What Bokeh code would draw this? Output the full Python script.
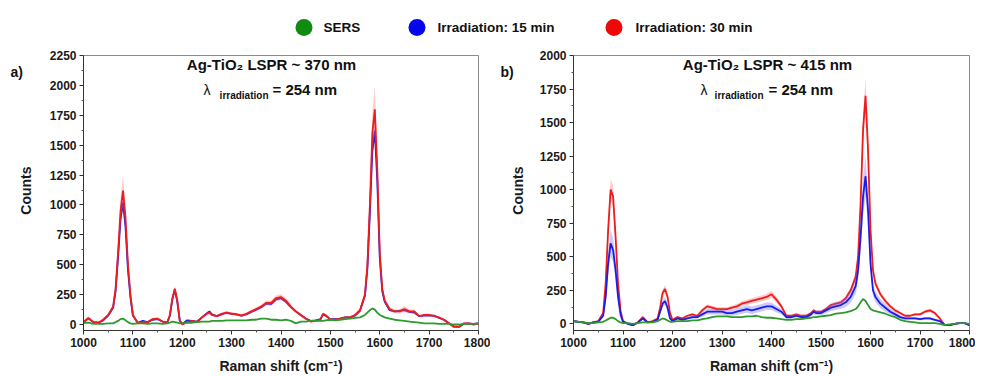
import math
from bokeh.plotting import figure
from bokeh.models import Range1d, Label, FixedTicker
from bokeh.layouts import column, row
from bokeh.embed import file_html
from bokeh.resources import INLINE
from bokeh.core.properties import value

# ---------------- data ----------------
raman_shift = [1000, 1010, 1020, 1030, 1040, 1050, 1060,
               1065, 1070, 1075, 1080, 1085, 1090, 1095, 1100,
               1110, 1120, 1130, 1140, 1150, 1160, 1170,
               1175, 1180, 1185, 1190, 1195, 1200,
               1210, 1220, 1230, 1240, 1250,
               1255,
               1260, 1270, 1280, 1290, 1300, 1310, 1320, 1330, 1340, 1350, 1360, 1370,
               1380, 1390, 1400, 1410, 1420, 1430, 1440, 1450, 1460, 1470, 1480,
               1485,
               1490, 1500, 1510, 1520, 1530, 1540, 1550, 1560, 1570,
               1575, 1580, 1585, 1590, 1595, 1600, 1605,
               1610, 1620, 1630, 1640, 1650, 1660, 1670, 1680, 1690, 1700, 1710, 1720,
               1730, 1740, 1750, 1760, 1770, 1780, 1790, 1800]

# Panel a) Ag-TiO2 LSPR ~ 370 nm
a_sers = [15, 15, 5, 5, 5, 10, 10,
          20, 30, 45, 50, 35, 20, 10, 5,
          10, 10, 5, 10, 10, 5, 10,
          15, 25, 20, 15, 10, 10,
          15, 15, 20, 25, 25,
          25,
          30, 30, 30, 35, 35, 35, 35, 35, 40, 40, 50, 50, 40, 40, 35, 40, 30, 10, 25, 25, 30, 30, 30,
          30,
          35, 40, 35, 40, 45, 50, 55, 60, 80,
          100, 120, 135, 125, 100, 80, 70,
          60, 50, 40, 35, 30, 25, 20, 15, 10, 10, 10, 5, 5, 5, 0, 0, 5, 5, 5, 10]
a_15 = [20, 50, 20, 15, 35, 75, 140,
        280, 560, 880, 1020, 820, 460, 230, 75,
        15, 30, 20, 40, 45, 25, 20,
        75, 210, 290, 190, 30, 5,
        35, 30, 25, 60, 95,
        110,
        85, 70, 85, 100, 90, 85, 75, 85, 105, 125, 145, 175, 170, 210, 220, 190, 145, 110, 80, 50, 30, 35, 45,
        85,
        75, 45, 45, 50, 60, 60, 75, 115, 240,
        470, 930, 1450, 1620, 1200, 560, 280,
        190, 120, 110, 115, 120, 105, 100, 70, 75, 75, 75, 55, 40, 10, -15, -20, 5, 10, 5, 10]
a_15_sd = [5, 5, 5, 5, 5, 5, 8,
           15, 25, 40, 50, 35, 20, 10, 5,
           5, 5, 5, 5, 5, 5, 5,
           8, 12, 15, 10, 5, 5,
           5, 5, 5, 5, 8,
           8,
           6, 6, 6, 6, 6, 6, 6, 6, 6, 8, 8, 10, 10, 12, 12, 10, 8, 6, 6, 5, 5, 5, 5,
           6,
           5, 5, 5, 5, 5, 5, 6, 10, 15,
           25, 45, 60, 70, 50, 25, 12,
           10, 8, 8, 8, 8, 8, 8, 6, 6, 6, 6, 5, 5, 5, 5, 5, 5, 5, 5, 5]
a_30 = [20, 55, 20, 15, 40, 80, 150,
        300, 600, 950, 1120, 900, 500, 250, 80,
        10, 20, 20, 45, 50, 25, 20,
        80, 220, 300, 200, 30, 0,
        20, 30, 20, 60, 90,
        100,
        80, 70, 90, 100, 90, 85, 75, 90, 110, 130, 150, 180, 180, 220, 230, 200, 150, 110, 80, 50, 25, 30, 40,
        90,
        80, 40, 40, 50, 60, 60, 80, 120, 250,
        500, 1000, 1600, 1800, 1300, 600, 300,
        200, 130, 110, 110, 130, 110, 110, 70, 80, 80, 70, 60, 40, 10, -20, -20, 10, 10, 0, 10]
a_30_sd = [10, 12, 10, 10, 12, 15, 20,
           30, 60, 100, 130, 80, 40, 25, 12,
           8, 8, 8, 10, 10, 8, 8,
           12, 20, 25, 18, 8, 8,
           8, 8, 8, 10, 12,
           12,
           12, 12, 12, 12, 12, 12, 12, 12, 14, 16, 18, 20, 20, 25, 25, 22, 18, 14, 12, 10, 8, 8, 10,
           12,
           10, 8, 8, 10, 10, 10, 12, 18, 30,
           60, 110, 170, 200, 120, 50, 25,
           18, 15, 15, 18, 25, 18, 15, 10, 10, 10, 10, 8, 8, 8, 8, 8, 8, 8, 8, 8]

# Panel b) Ag-TiO2 LSPR ~ 415 nm
b_sers = [20, 15, 10, 5, 5, 10, 15,
          25, 35, 45, 45, 35, 20, 10, 5,
          5, 0, 5, 10, 10, 10, 20,
          30, 40, 35, 25, 15, 15,
          20, 20, 20, 25, 25,
          30,
          35, 40, 50, 55, 55, 55, 50, 50, 50, 55, 55, 60, 50, 45, 45, 40, 35, 30, 30, 35, 35, 40, 45,
          50,
          50, 55, 60, 65, 75, 80, 85, 95, 110,
          130, 160, 185, 170, 140, 110, 100,
          95, 85, 75, 60, 50, 30, 20, 15, 10, 5, 5, 5, 5, 0, -10, -5, 0, 5, 5, 0]
b_15 = [20, 15, 10, 0, 10, 15, 60,
        200, 450, 600, 550, 400, 200, 70, 15,
        0, -10, 10, 40, 10, 15, 30,
        90, 150, 170, 120, 40, 20,
        40, 30, 40, 50, 50,
        60,
        70, 90, 90, 90, 90, 80, 80, 90, 100, 110, 100, 110, 120, 130, 130, 110, 90, 50, 50, 60, 50, 50, 70,
        90,
        80, 80, 100, 120, 130, 140, 160, 200, 280,
        400, 650, 950, 1100, 850, 450, 250,
        200, 150, 120, 90, 70, 50, 40, 40, 40, 35, 40, 40, 30, 20, -10, -10, 0, 5, 5, -10]
b_15_sd = [8, 8, 8, 8, 8, 8, 15,
           40, 80, 100, 90, 70, 40, 15, 8,
           6, 6, 6, 8, 6, 6, 8,
           15, 25, 30, 20, 10, 8,
           8, 8, 10, 12, 12,
           15,
           18, 20, 20, 20, 20, 20, 22, 24, 25, 28, 28, 28, 28, 28, 28, 25, 20, 12, 12, 14, 12, 12, 15,
           18,
           18, 18, 22, 25, 28, 30, 35, 45, 60,
           80, 110, 140, 150, 110, 70, 45,
           40, 35, 30, 25, 20, 15, 12, 10, 10, 10, 10, 10, 8, 8, 6, 6, 6, 6, 6, 6]
b_30 = [20, 15, 10, 0, 10, 20, 80,
        300, 700, 1000, 950, 650, 300, 100, 20,
        0, -10, 10, 50, 10, 20, 40,
        120, 230, 260, 200, 80, 30,
        50, 40, 60, 70, 60,
        80,
        100, 130, 120, 110, 110, 110, 120, 130, 150, 160, 170, 180, 190, 200, 220, 180, 130, 60, 60, 70, 60, 60, 80,
        100,
        90, 90, 110, 140, 150, 160, 190, 250, 350,
        500, 900, 1450, 1700, 1300, 700, 400,
        300, 220, 170, 130, 100, 80, 60, 60, 70, 70, 90, 100, 80, 40, -10, -10, 0, 5, 5, -10]
b_30_sd = [8, 8, 8, 8, 8, 8, 12,
           30, 60, 80, 80, 60, 30, 12, 8,
           6, 6, 6, 8, 6, 6, 8,
           15, 25, 30, 20, 10, 8,
           8, 8, 8, 10, 10,
           12,
           15, 15, 15, 15, 15, 15, 15, 18, 20, 20, 20, 22, 22, 24, 25, 22, 18, 10, 10, 10, 10, 10, 10,
           12,
           10, 10, 12, 15, 15, 15, 18, 22, 30,
           45, 70, 110, 130, 100, 55, 30,
           25, 20, 18, 15, 12, 10, 8, 8, 10, 10, 12, 14, 12, 8, 6, 6, 6, 6, 6, 6]

series_labels = ["SERS", "Irradiation: 15 min", "Irradiation: 30 min"]
panel_titles = ["Ag-TiO\u2082 LSPR ~ 370 nm", "Ag-TiO\u2082 LSPR ~ 415 nm"]
panel_letters = ["a)", "b)"]
y_axis_title = "Counts"
x_axis_title = "Raman shift (cm\u207b\u00b9)"
irradiation_text = "= 254 nm"
x_ticks = [1000, 1100, 1200, 1300, 1400, 1500, 1600, 1700, 1800]
y_ticks_a = [0, 250, 500, 750, 1000, 1250, 1500, 1750, 2000, 2250]
y_ticks_b = [0, 250, 500, 750, 1000, 1250, 1500, 1750, 2000]

for s in [a_sers, a_15, a_15_sd, a_30, a_30_sd, b_sers, b_15, b_15_sd, b_30, b_30_sd]:
    assert len(s) == len(raman_shift), len(s)

# ---------------- style ----------------
FONT = "Liberation Sans"
C_GREEN = "#2e9a2e"
C_BLUE = "#1c1ce6"
C_RED = "#ee1c1c"
L_GREEN = "#108a10"
L_BLUE = "#0505ee"
L_RED = "#ee0808"
ROW_H = 328
B_TOP = 7
B_BOT = 43
ROW_Y0 = 48          # page y where the panel row starts
F_BOT = ROW_Y0 + ROW_H - B_BOT    # page y of frame bottom (333)


def band(p, y, sd, color):
    lo = [v - s for v, s in zip(y, sd)]
    hi = [v + s for v, s in zip(y, sd)]
    p.varea(x=raman_shift, y1=lo, y2=hi, fill_color=color, fill_alpha=0.35)


def make_side(letter, counts_x):
    # side strip: its frame spans page rows ROW_Y0..F_BOT, y range in page pixels
    s = figure(width=40, height=ROW_H, output_backend="svg", toolbar_location=None,
               x_range=Range1d(0, 40), y_range=Range1d(F_BOT, ROW_Y0),
               x_axis_type=None, y_axis_type=None, min_border_left=0,
               min_border_right=0, min_border_top=0, min_border_bottom=B_BOT)
    s.outline_line_color = None
    s.xgrid.visible = False
    s.ygrid.visible = False
    s.text(x=[10], y=[65], text=[letter], text_baseline="alphabetic",
           text_align="left", text_font=value(FONT), text_font_style="bold",
           text_font_size="14px", text_color="#111111")
    s.text(x=[counts_x], y=[188], text=[y_axis_title], angle=math.pi / 2,
           text_baseline="middle", text_align="center", text_font=value(FONT),
           text_font_style="bold", text_font_size="14px", text_color="#1a1a1a")
    return s


def make_panel(width, bl, br, ymax, yticks, sers, s15, sd15, s30, sd30,
               title, red_on_top, tx, lam_x, irr_x, eq_x):
    p = figure(width=width, height=ROW_H, output_backend="svg", toolbar_location=None,
               x_range=Range1d(1000, 1800), y_range=Range1d(-50, ymax),
               min_border_left=bl, min_border_right=br, min_border_top=B_TOP,
               min_border_bottom=B_BOT)
    p.xgrid.visible = False
    p.ygrid.visible = False
    p.outline_line_color = "#8a8a8a"
    p.outline_line_width = 1
    p.background_fill_color = "white"
    p.border_fill_color = "white"

    if red_on_top:
        band(p, s15, sd15, "#6a6aff")
        p.line(raman_shift, s15, line_color=C_BLUE, line_width=1.8)
        band(p, s30, sd30, "#ff6a6a")
        p.line(raman_shift, s30, line_color=C_RED, line_width=1.8)
    else:
        band(p, s30, sd30, "#ff6a6a")
        p.line(raman_shift, s30, line_color=C_RED, line_width=1.8)
        band(p, s15, sd15, "#6a6aff")
        p.line(raman_shift, s15, line_color=C_BLUE, line_width=1.8)
    p.line(raman_shift, sers, line_color=C_GREEN, line_width=1.8)

    minor_x = [t + 50 for t in x_ticks[:-1]]
    minor_y = [t + 125 for t in yticks[:-1]]
    p.xaxis.ticker = FixedTicker(ticks=x_ticks, minor_ticks=minor_x)
    p.yaxis.ticker = FixedTicker(ticks=yticks, minor_ticks=minor_y)
    for ax in (p.xaxis, p.yaxis):
        ax.axis_line_color = "#333333"
        ax.major_tick_line_color = "#333333"
        ax.minor_tick_line_color = "#555555"
        ax.major_tick_in = 0
        ax.major_tick_out = 4
        ax.minor_tick_in = 0
        ax.minor_tick_out = 2
        ax.major_label_text_font = FONT
        ax.major_label_text_font_style = "bold"
        ax.major_label_text_font_size = "12px"
        ax.major_label_text_color = "#1a1a1a"
        ax.major_label_standoff = 3
        ax.axis_label_text_font = FONT
        ax.axis_label_text_font_style = "bold"
        ax.axis_label_text_font_size = "14px"
        ax.axis_label_text_color = "#1a1a1a"
    p.xaxis.axis_label = x_axis_title
    p.xaxis.axis_label_standoff = 8

    kw = dict(x_units="screen", y_units="screen", text_font=FONT, text_color="#111111")
    p.add_layout(Label(x=tx, y=258, text=title, text_align="center",
                       text_font_size="15px", text_font_style="bold", **kw))
    p.add_layout(Label(x=lam_x, y=233, text="\u03bb", text_align="left",
                       text_font_size="14px", **kw))
    p.add_layout(Label(x=irr_x, y=230, text="irradiation", text_align="right",
                       text_font_size="10px", text_font_style="bold", **kw))
    p.add_layout(Label(x=eq_x, y=233, text=irradiation_text, text_align="left",
                       text_font_size="15px", text_font_style="bold", **kw))
    return p


sa = make_side(panel_letters[0], 25)
pa = make_panel(450, 43, 12, 2250, y_ticks_a, a_sers, a_15, a_15_sd, a_30, a_30_sd,
                panel_titles[0], True, 188, 120, 185, 189)
sb = make_side(panel_letters[1], 27)
pb = make_panel(445, 43, 6, 2000, y_ticks_b, b_sers, b_15, b_15_sd, b_30, b_30_sd,
                panel_titles[1], False, 194, 127, 190, 195)

# legend strip
lg = figure(width=975, height=ROW_Y0, output_backend="svg", toolbar_location=None,
            x_range=Range1d(0, 975), y_range=Range1d(ROW_Y0, 0),
            x_axis_type=None, y_axis_type=None, min_border=0)
lg.outline_line_color = None
lg.xgrid.visible = False
lg.ygrid.visible = False
lg.scatter(x=[303.5, 416.5, 613.5], y=[27, 27, 27], size=17,
           color=[L_GREEN, L_BLUE, L_RED], line_color=None)
lg.text(x=[323, 437, 635], y=[27, 27, 27], text=series_labels,
        text_baseline="middle", text_align="left", text_font=value(FONT),
        text_font_style="bold", text_font_size="13.5px", text_color="#111111")

layout = column(lg, row(sa, pa, sb, pb))
open("out.html", "w").write(file_html(layout, INLINE))
